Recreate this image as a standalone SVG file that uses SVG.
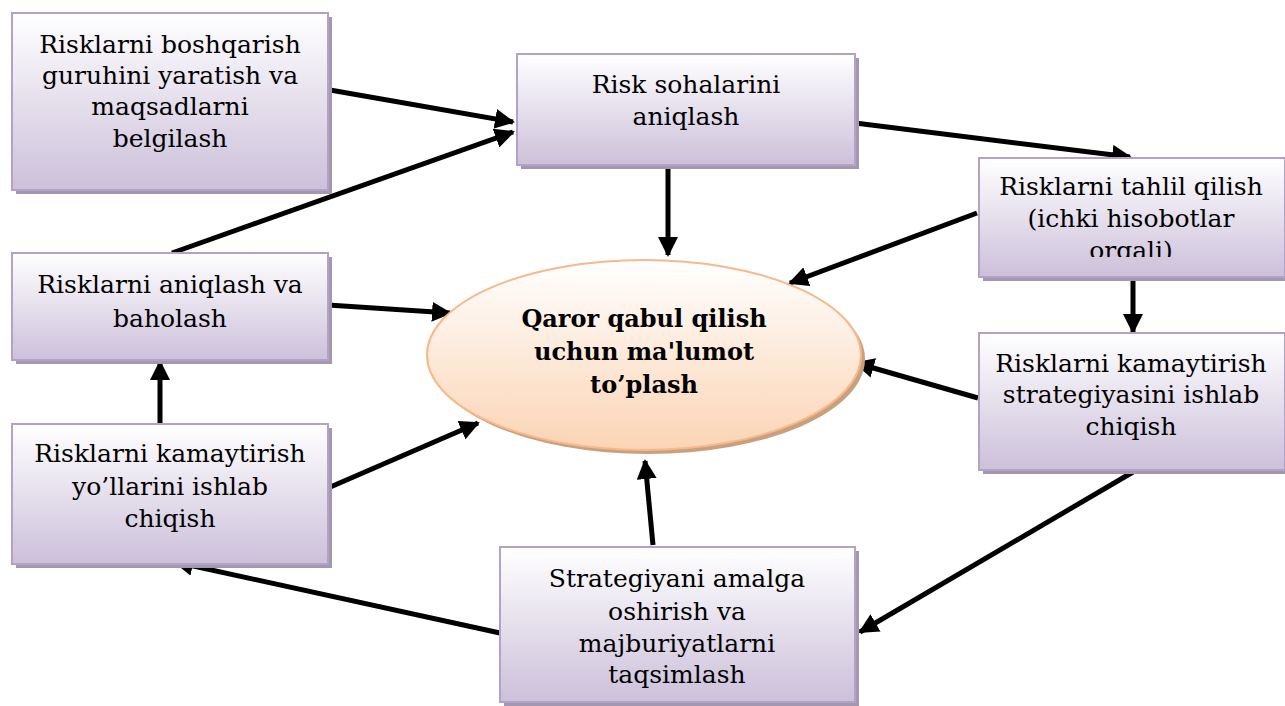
<svg xmlns="http://www.w3.org/2000/svg" width="1285" height="706" viewBox="0 0 1285 706">
<defs>
<linearGradient id="boxg" x1="0" y1="0" x2="0" y2="1">
<stop offset="0" stop-color="#ffffff"/>
<stop offset="1" stop-color="#ccc0da"/>
</linearGradient>
<linearGradient id="ellg" x1="0" y1="0" x2="0" y2="1">
<stop offset="0" stop-color="#ffffff"/>
<stop offset="1" stop-color="#fbd4b4"/>
</linearGradient>
<marker id="ah" markerWidth="4" markerHeight="4" refX="3.6" refY="2" orient="auto" markerUnits="strokeWidth">
<path d="M0,0 L4,2 L0,4 z" fill="#000"/>
</marker>
<clipPath id="clip3"><rect x="979" y="158" width="306" height="99"/></clipPath>
</defs>
<style>
.shadow{fill:#a497b0}
.box{fill:url(#boxg);stroke:#b3a2c7;stroke-width:2}
.t{font-family:"DejaVu Serif","Liberation Serif",serif;font-size:25px;fill:#000;text-anchor:middle}
.tb{font-family:"DejaVu Serif","Liberation Serif",serif;font-size:24px;font-weight:bold;fill:#000;text-anchor:middle}
.c{stroke:#000;stroke-width:5;fill:none;marker-end:url(#ah)}
</style>
<rect width="1285" height="706" fill="#fff"/>

<g id="connectors">
<line class="c" x1="330" y1="90" x2="513" y2="122"/>
<line class="c" x1="172" y1="253" x2="513" y2="132"/>
<line class="c" x1="855" y1="123" x2="1130" y2="157"/>
<line class="c" x1="668" y1="165" x2="668" y2="255"/>
<line class="c" x1="977" y1="213" x2="790" y2="283"/>
<line class="c" x1="1133" y1="278" x2="1133" y2="332"/>
<line class="c" x1="978" y1="398" x2="856" y2="363"/>
<line class="c" x1="1133" y1="472" x2="860" y2="632"/>
<line class="c" x1="653" y1="545" x2="645" y2="461"/>
<line class="c" x1="500" y1="633" x2="175" y2="562"/>
<line class="c" x1="328" y1="488" x2="478" y2="423"/>
<line class="c" x1="160" y1="423" x2="160" y2="362"/>
<line class="c" x1="328" y1="305" x2="450" y2="313"/>
</g>

<g id="n1">
<rect class="shadow" x="16" y="17" width="316" height="177"/>
<rect class="box" x="12" y="13" width="316" height="177"/>
<text class="t" x="170" y="53">Risklarni boshqarish</text>
<text class="t" x="170" y="84">guruhini yaratish va</text>
<text class="t" x="170" y="115">maqsadlarni</text>
<text class="t" x="170" y="147">belgilash</text>
</g>

<g id="n2">
<rect class="shadow" x="521" y="58" width="338" height="111"/>
<rect class="box" x="517" y="54" width="338" height="111"/>
<text class="t" x="686" y="93">Risk sohalarini</text>
<text class="t" x="686" y="125">aniqlash</text>
</g>

<g id="n3">
<rect class="shadow" x="983" y="162" width="306" height="119"/>
<rect class="box" x="979" y="158" width="306" height="119"/>
<g clip-path="url(#clip3)">
<text class="t" x="1131" y="195">Risklarni tahlil qilish</text>
<text class="t" x="1131" y="227">(ichki hisobotlar</text>
<text class="t" x="1131" y="259">orqali)</text>
</g>
</g>

<g id="n4">
<rect class="shadow" x="983" y="337" width="306" height="137"/>
<rect class="box" x="979" y="333" width="306" height="137"/>
<text class="t" x="1131" y="372">Risklarni kamaytirish</text>
<text class="t" x="1131" y="403">strategiyasini ishlab</text>
<text class="t" x="1131" y="435">chiqish</text>
</g>

<g id="n5">
<rect class="shadow" x="504" y="551" width="355" height="155"/>
<rect class="box" x="500" y="547" width="355" height="155"/>
<text class="t" x="677" y="587">Strategiyani amalga</text>
<text class="t" x="677" y="620">oshirish va</text>
<text class="t" x="677" y="652">majburiyatlarni</text>
<text class="t" x="677" y="683">taqsimlash</text>
</g>

<g id="n6">
<rect class="shadow" x="16" y="428" width="316" height="140"/>
<rect class="box" x="12" y="424" width="316" height="140"/>
<text class="t" x="170" y="462">Risklarni kamaytirish</text>
<text class="t" x="170" y="495">yo’llarini ishlab</text>
<text class="t" x="170" y="527">chiqish</text>
</g>

<g id="n7">
<rect class="shadow" x="16" y="257" width="316" height="107"/>
<rect class="box" x="12" y="253" width="316" height="107"/>
<text class="t" x="170" y="293">Risklarni aniqlash va</text>
<text class="t" x="170" y="327">baholash</text>
</g>

<g id="center">
<ellipse cx="648" cy="359" rx="217" ry="95" fill="#c9a07e"/>
<ellipse cx="644" cy="355" rx="217" ry="95" fill="url(#ellg)" stroke="#f6b98b" stroke-width="2"/>
<text class="tb" x="644" y="327">Qaror qabul qilish</text>
<text class="tb" x="644" y="360">uchun ma'lumot</text>
<text class="tb" x="644" y="393">to’plash</text>
</g>
</svg>
